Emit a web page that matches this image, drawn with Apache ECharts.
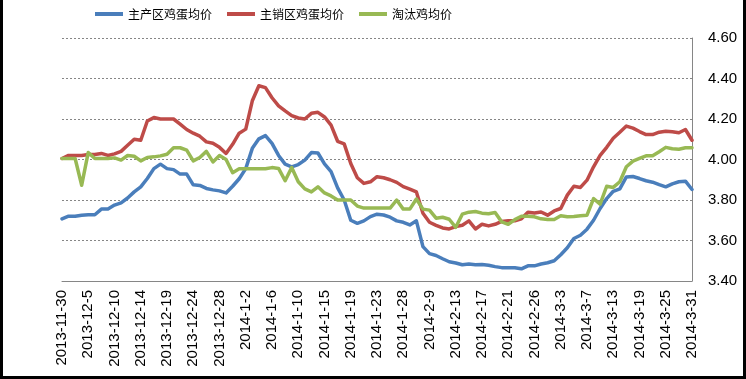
<!DOCTYPE html>
<html>
<head>
<meta charset="utf-8">
<script src="https://cdn.jsdelivr.net/npm/echarts@6/dist/echarts.min.js"></script>
<style>
html,body{margin:0;padding:0;background:#fff;}
#c{width:746px;height:379px;}
</style>
</head>
<body>
<div id="c"></div>
<script>
const categories = [
"2013-11-30","2013-12-1","2013-12-2","2013-12-3","2013-12-5","2013-12-6","2013-12-7","2013-12-9",
"2013-12-10","2013-12-11","2013-12-12","2013-12-13","2013-12-14","2013-12-15","2013-12-16","2013-12-18",
"2013-12-19","2013-12-20","2013-12-21","2013-12-23","2013-12-24","2013-12-25","2013-12-26","2013-12-27",
"2013-12-28","2013-12-29","2013-12-30","2013-12-31","2014-1-2","2014-1-3","2014-1-4","2014-1-5",
"2014-1-6","2014-1-7","2014-1-8","2014-1-9","2014-1-10","2014-1-11","2014-1-13","2014-1-14",
"2014-1-15","2014-1-16","2014-1-17","2014-1-18","2014-1-19","2014-1-20","2014-1-21","2014-1-22",
"2014-1-23","2014-1-24","2014-1-25","2014-1-27","2014-1-28","2014-1-29","2014-1-30","2014-2-8",
"2014-2-9","2014-2-10","2014-2-11","2014-2-12","2014-2-13","2014-2-14","2014-2-15","2014-2-16",
"2014-2-17","2014-2-18","2014-2-19","2014-2-20","2014-2-21","2014-2-22","2014-2-24","2014-2-25",
"2014-2-26","2014-2-27","2014-2-28","2014-3-1","2014-3-3","2014-3-4","2014-3-5","2014-3-6",
"2014-3-7","2014-3-8","2014-3-10","2014-3-11","2014-3-13","2014-3-14","2014-3-16","2014-3-17",
"2014-3-19","2014-3-20","2014-3-22","2014-3-24","2014-3-25","2014-3-26","2014-3-28","2014-3-30",
"2014-3-31"
];

const seriesNames = ["主产区鸡蛋均价", "主销区鸡蛋均价", "淘汰鸡均价"];

const producingArea = [
3.707,3.72,3.72,3.725,3.727,3.727,3.755,3.756,3.775,3.786,
3.81,3.84,3.865,3.906,3.955,3.977,3.955,3.95,3.928,3.928,
3.875,3.872,3.857,3.85,3.845,3.835,3.868,3.905,3.955,4.055,
4.102,4.118,4.08,4.02,3.977,3.964,3.975,3.997,4.034,4.032,
3.978,3.94,3.86,3.80,3.70,3.685,3.697,3.718,3.73,3.726,
3.715,3.697,3.69,3.677,3.697,3.57,3.535,3.526,3.51,3.495,
3.489,3.48,3.484,3.48,3.482,3.478,3.471,3.466,3.465,3.465,
3.46,3.475,3.475,3.484,3.49,3.50,3.53,3.564,3.61,3.626,
3.656,3.70,3.758,3.807,3.843,3.855,3.914,3.916,3.906,3.895,
3.888,3.876,3.865,3.88,3.89,3.893,3.852
];

const sellingArea = [
4.005,4.02,4.02,4.02,4.025,4.025,4.03,4.02,4.028,4.04,
4.07,4.10,4.095,4.19,4.207,4.20,4.20,4.20,4.175,4.148,
4.13,4.115,4.087,4.08,4.06,4.03,4.075,4.13,4.15,4.29,
4.364,4.355,4.305,4.265,4.24,4.217,4.205,4.20,4.228,4.233,
4.21,4.17,4.09,4.077,3.98,3.91,3.882,3.89,3.915,3.91,
3.90,3.887,3.866,3.854,3.84,3.735,3.69,3.675,3.662,3.657,
3.669,3.675,3.697,3.657,3.68,3.672,3.68,3.694,3.697,3.697,
3.707,3.74,3.736,3.741,3.725,3.746,3.758,3.824,3.868,3.862,
3.898,3.964,4.02,4.06,4.105,4.135,4.165,4.155,4.138,4.123,
4.123,4.135,4.14,4.137,4.132,4.148,4.095
];

const culledHen = [
4.005,4.005,4.005,3.873,4.035,4.005,4.005,4.005,4.008,3.997,
4.02,4.016,3.993,4.01,4.013,4.018,4.026,4.058,4.058,4.046,
3.993,4.01,4.04,3.988,4.02,4.00,3.935,3.954,3.954,3.954,
3.954,3.954,3.96,3.956,3.895,3.96,3.89,3.855,3.84,3.865,
3.835,3.82,3.80,3.80,3.80,3.77,3.76,3.76,3.76,3.76,
3.76,3.80,3.755,3.755,3.805,3.755,3.75,3.71,3.715,3.705,
3.665,3.73,3.74,3.743,3.735,3.732,3.738,3.692,3.68,3.703,
3.72,3.72,3.717,3.707,3.704,3.704,3.722,3.717,3.718,3.722,
3.725,3.807,3.78,3.868,3.862,3.89,3.964,3.992,4.005,4.018,
4.018,4.038,4.06,4.053,4.051,4.058,4.058
];

const yTicks = {min: 3.4, max: 4.6, interval: 0.2};
const colors = ["#4A7EBB", "#BE4B48", "#98B954"];

const chart = echarts.init(document.getElementById('c'), null, {renderer: 'canvas'});
const seriesData = [producingArea, sellingArea, culledHen];

chart.setOption({
  animation: false,
  backgroundColor: '#ffffff',
  color: colors,
  legend: {
    left: 95,
    top: 8,
    padding: 0,
    icon: 'rect',
    itemWidth: 28,
    itemHeight: 4,
    itemGap: 15,
    textStyle: {fontFamily: '"Noto Sans CJK SC", sans-serif', fontSize: 12, color: '#000'},
    data: seriesNames
  },
  grid: {left: 62, right: 54, top: 38, bottom: 98, containLabel: false},
  xAxis: {
    type: 'category',
    data: categories,
    boundaryGap: false,
    axisLine: {show: true, lineStyle: {color: '#868686', width: 1}},
    axisTick: {show: false},
    axisLabel: {
      interval: 3,
      rotate: 90,
      margin: 9,
      fontFamily: '"Liberation Sans", Arial, sans-serif',
      fontSize: 15,
      color: '#000'
    },
    splitLine: {show: false}
  },
  yAxis: {
    type: 'value',
    position: 'right',
    min: yTicks.min,
    max: yTicks.max,
    interval: yTicks.interval,
    axisLine: {show: true, lineStyle: {color: '#868686', width: 1}},
    axisTick: {show: false},
    axisLabel: {
      margin: 16,
      fontFamily: '"Liberation Sans", Arial, sans-serif',
      fontSize: 15,
      color: '#000',
      formatter: v => v.toFixed(2)
    },
    splitLine: {show: true, lineStyle: {color: '#868686', type: [2, 2], width: 1}}
  },
  series: seriesNames.map((name, k) => ({
    name: name,
    type: 'line',
    data: seriesData[k],
    symbol: 'none',
    smooth: false,
    lineStyle: {width: 3.5, color: colors[k], join: 'round', cap: 'round'},
    itemStyle: {color: colors[k]}
  })),
  graphic: [
    {type: 'rect', left: 0, top: 0, shape: {width: 3, height: 379}, style: {fill: '#000'}, silent: true},
    {type: 'rect', left: 743, top: 0, shape: {width: 3, height: 379}, style: {fill: '#000'}, silent: true},
    {type: 'rect', left: 0, top: 376, shape: {width: 746, height: 3}, style: {fill: '#000'}, silent: true}
  ]
});
</script>
</body>
</html>
